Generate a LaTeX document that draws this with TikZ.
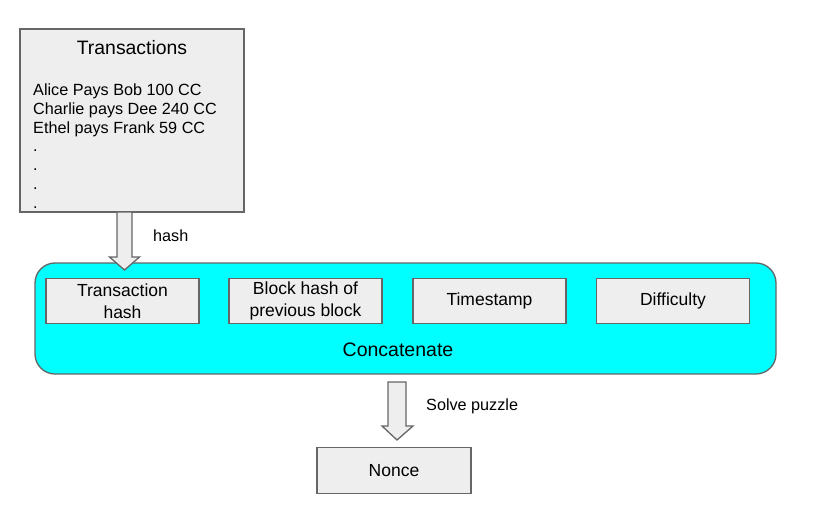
\documentclass[tikz,border=0pt]{standalone}
\usepackage{fontspec}
\setmainfont{Liberation Sans}
\usetikzlibrary{calc}
\definecolor{boxfill}{HTML}{EEEEEE}
\definecolor{boxline}{HTML}{666666}
\definecolor{cyanfill}{HTML}{00FFFF}
\tikzset{
  graybox/.style={draw=boxline, fill=boxfill, line width=1.3pt, inner sep=0pt},
  innerbox/.style={graybox, minimum width=153pt, minimum height=45pt, align=center, font=\fontsize{17.5}{22}\selectfont},
  listline/.style={anchor=base west, inner sep=0pt, font=\fontsize{16.2}{19}\selectfont},
  lbl/.style={inner sep=0pt, font=\fontsize{16.2}{19}\selectfont},
  blockarrow/.style={draw=boxline, fill=boxfill, line width=1.3pt, line join=miter},
}
\begin{document}
\begin{tikzpicture}[x=1pt,y=-1pt]
\useasboundingbox (0,0) rectangle (818,513);
% Transactions box
\node[graybox, minimum width=224pt, minimum height=183pt] (tx) at (132,120.5) {};
\node[anchor=base, inner sep=0pt, font=\fontsize{19.4}{22}\selectfont] (txtitle) at (132,54.5) {Transactions};
\node[listline] (l1) at (33,95.5) {Alice Pays Bob 100 CC};
\node[listline] (l2) at (33,114.5) {Charlie pays Dee 240 CC};
\node[listline] (l3) at (33,133.5) {Ethel pays Frank 59 CC};
\node[listline] (d1) at (33,151.5) {.};
\node[listline] (d2) at (33,170.5) {.};
\node[listline] (d3) at (33,189.5) {.};
\node[listline] (d4) at (33,208.5) {.};
% Concatenate container
\node[draw=boxline, fill=cyanfill, line width=1.3pt, rounded corners=20pt, minimum width=741pt, minimum height=111pt, inner sep=0pt] (cat) at (405.5,318.5) {};
\node[anchor=base, inner sep=0pt, font=\fontsize{19.5}{22}\selectfont] (cattext) at (398,356) {Concatenate};
\node[innerbox] (th) at (122.5,301) {Transaction\\hash};
\node[innerbox] (bh) at (305.5,301) {Block hash of\\previous block};
\node[innerbox] (ts) at (489.5,301) {Timestamp};
\node[innerbox] (df) at (673,301) {Difficulty};
% Arrow 1
\coordinate (a1top) at (124.5,212);
\coordinate (a1tip) at (124.5,270);
\draw[blockarrow] ($(a1top)+(-7.5,0)$) -- ($(a1top)+(7.5,0)$) -- (132,257) -- (139.5,257) -- (a1tip) -- (109.5,257) -- (117,257) -- cycle;
\node[lbl, anchor=base west] (hashlbl) at (153,241.5) {hash};
% Nonce
\node[graybox, minimum width=154pt, minimum height=46pt, font=\fontsize{17.5}{22}\selectfont] (nonce) at (394,470.5) {Nonce};
% Arrow 2
\coordinate (a2top) at (397,382);
\coordinate (a2tip) at (397,440);
\draw[blockarrow] ($(a2top)+(-9,0)$) -- ($(a2top)+(9,0)$) -- (406,426) -- (413,426) -- (a2tip) -- (382,426) -- (388,426) -- cycle;
\node[lbl, anchor=base west] (solvelbl) at (426,410) {Solve puzzle};
\end{tikzpicture}
\end{document}
